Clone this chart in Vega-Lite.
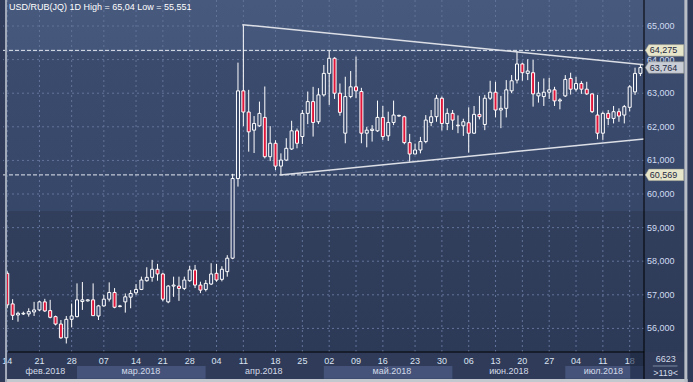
{
  "$schema": "https://vega.github.io/schema/vega-lite/v6.json",
  "width": 646,
  "height": 352,
  "autosize": {"type": "none"},
  "padding": {"left": 3, "top": 0, "right": 44, "bottom": 30},
  "background": "#2f3b58",
  "config": {
    "view": {"stroke": null},
    "text": {"font": "Liberation Sans"}
  },
  "datasets": {
    "candles": [
      {"k": -1, "o": 57.64, "h": 57.70, "l": 56.60, "c": 56.70},
      {"k": 0, "o": 56.73, "h": 56.87, "l": 56.25, "c": 56.39},
      {"k": 1, "o": 56.40, "h": 56.50, "l": 56.20, "c": 56.45},
      {"k": 2, "o": 56.43, "h": 56.50, "l": 56.40, "c": 56.45},
      {"k": 3, "o": 56.43, "h": 56.60, "l": 56.35, "c": 56.50},
      {"k": 4, "o": 56.49, "h": 56.79, "l": 56.37, "c": 56.55},
      {"k": 5, "o": 56.55, "h": 56.82, "l": 56.52, "c": 56.79},
      {"k": 6, "o": 56.79, "h": 56.88, "l": 56.49, "c": 56.52},
      {"k": 7, "o": 56.53, "h": 56.85, "l": 56.30, "c": 56.33},
      {"k": 8, "o": 56.35, "h": 56.38, "l": 56.09, "c": 56.13},
      {"k": 9, "o": 56.13, "h": 56.25, "l": 55.69, "c": 55.72},
      {"k": 10, "o": 55.72, "h": 56.37, "l": 55.551, "c": 56.27},
      {"k": 11, "o": 56.27, "h": 56.74, "l": 56.03, "c": 56.37},
      {"k": 12, "o": 56.35, "h": 57.34, "l": 56.33, "c": 56.85},
      {"k": 13, "o": 56.80, "h": 57.38, "l": 56.55, "c": 56.85},
      {"k": 14, "o": 56.82, "h": 56.87, "l": 56.80, "c": 56.85},
      {"k": 15, "o": 56.85, "h": 57.34, "l": 56.38, "c": 56.38},
      {"k": 16, "o": 56.37, "h": 56.70, "l": 56.25, "c": 56.67},
      {"k": 17, "o": 56.67, "h": 57.00, "l": 56.65, "c": 56.87},
      {"k": 18, "o": 56.87, "h": 57.37, "l": 56.80, "c": 57.07},
      {"k": 19, "o": 57.07, "h": 57.20, "l": 56.60, "c": 56.63},
      {"k": 20, "o": 56.65, "h": 56.70, "l": 56.63, "c": 56.67},
      {"k": 21, "o": 56.79, "h": 57.04, "l": 56.47, "c": 56.94},
      {"k": 22, "o": 56.93, "h": 57.14, "l": 56.60, "c": 57.04},
      {"k": 23, "o": 57.06, "h": 57.32, "l": 56.99, "c": 57.16},
      {"k": 24, "o": 57.16, "h": 57.54, "l": 57.14, "c": 57.44},
      {"k": 25, "o": 57.42, "h": 57.82, "l": 57.39, "c": 57.52},
      {"k": 26, "o": 57.52, "h": 58.04, "l": 57.39, "c": 57.76},
      {"k": 27, "o": 57.76, "h": 57.92, "l": 57.42, "c": 57.62},
      {"k": 28, "o": 57.62, "h": 57.66, "l": 56.81, "c": 56.87},
      {"k": 29, "o": 56.79, "h": 57.29, "l": 56.75, "c": 57.26},
      {"k": 30, "o": 57.26, "h": 57.54, "l": 56.94, "c": 57.29},
      {"k": 31, "o": 57.26, "h": 57.54, "l": 56.82, "c": 57.19},
      {"k": 32, "o": 57.19, "h": 57.54, "l": 57.14, "c": 57.44},
      {"k": 33, "o": 57.42, "h": 57.86, "l": 57.39, "c": 57.74},
      {"k": 34, "o": 57.74, "h": 57.89, "l": 57.20, "c": 57.29},
      {"k": 35, "o": 57.29, "h": 57.39, "l": 57.05, "c": 57.14},
      {"k": 36, "o": 57.16, "h": 57.44, "l": 57.10, "c": 57.34},
      {"k": 37, "o": 57.32, "h": 57.94, "l": 57.29, "c": 57.62},
      {"k": 38, "o": 57.64, "h": 57.92, "l": 57.39, "c": 57.44},
      {"k": 39, "o": 57.46, "h": 57.85, "l": 57.40, "c": 57.76},
      {"k": 40, "o": 57.69, "h": 58.18, "l": 57.54, "c": 58.09},
      {"k": 41, "o": 58.09, "h": 60.60, "l": 58.06, "c": 60.46},
      {"k": 42, "o": 60.46, "h": 63.91, "l": 60.22, "c": 63.07},
      {"k": 43, "o": 63.07, "h": 65.04, "l": 62.02, "c": 62.44},
      {"k": 44, "o": 62.44, "h": 63.10, "l": 61.26, "c": 61.85},
      {"k": 45, "o": 61.90, "h": 62.32, "l": 61.22, "c": 62.10},
      {"k": 46, "o": 62.03, "h": 62.75, "l": 62.00, "c": 62.40},
      {"k": 47, "o": 62.28, "h": 63.20, "l": 61.06, "c": 61.11},
      {"k": 48, "o": 61.11, "h": 62.02, "l": 60.98, "c": 61.51},
      {"k": 49, "o": 61.51, "h": 61.60, "l": 60.71, "c": 60.83},
      {"k": 50, "o": 60.83, "h": 61.21, "l": 60.569, "c": 61.01},
      {"k": 51, "o": 61.01, "h": 61.66, "l": 60.98, "c": 61.36},
      {"k": 52, "o": 61.34, "h": 62.18, "l": 61.31, "c": 61.88},
      {"k": 53, "o": 61.88, "h": 61.95, "l": 61.36, "c": 61.51},
      {"k": 54, "o": 61.71, "h": 62.50, "l": 61.49, "c": 62.40},
      {"k": 55, "o": 62.40, "h": 63.05, "l": 62.08, "c": 62.75},
      {"k": 56, "o": 62.75, "h": 63.19, "l": 61.71, "c": 62.13},
      {"k": 57, "o": 62.15, "h": 63.15, "l": 62.08, "c": 62.95},
      {"k": 58, "o": 62.95, "h": 63.84, "l": 62.90, "c": 63.59},
      {"k": 59, "o": 63.59, "h": 64.275, "l": 62.65, "c": 64.04},
      {"k": 60, "o": 64.04, "h": 64.07, "l": 62.83, "c": 63.00},
      {"k": 61, "o": 63.00, "h": 63.29, "l": 62.33, "c": 62.43},
      {"k": 62, "o": 61.81, "h": 63.49, "l": 61.51, "c": 62.90},
      {"k": 63, "o": 62.90, "h": 63.66, "l": 62.85, "c": 63.19},
      {"k": 64, "o": 63.19, "h": 64.09, "l": 62.85, "c": 63.07},
      {"k": 65, "o": 63.05, "h": 63.16, "l": 61.51, "c": 61.81},
      {"k": 66, "o": 61.81, "h": 62.00, "l": 61.39, "c": 61.90},
      {"k": 67, "o": 61.89, "h": 62.05, "l": 61.56, "c": 61.93},
      {"k": 68, "o": 61.88, "h": 62.78, "l": 61.85, "c": 62.28},
      {"k": 69, "o": 62.28, "h": 62.62, "l": 61.61, "c": 61.71},
      {"k": 70, "o": 61.73, "h": 62.45, "l": 61.58, "c": 62.13},
      {"k": 71, "o": 62.13, "h": 62.78, "l": 62.05, "c": 62.35},
      {"k": 72, "o": 62.32, "h": 62.36, "l": 62.30, "c": 62.34},
      {"k": 73, "o": 62.30, "h": 62.33, "l": 61.48, "c": 61.53},
      {"k": 74, "o": 61.53, "h": 61.79, "l": 60.96, "c": 61.19},
      {"k": 75, "o": 61.19, "h": 61.50, "l": 61.19, "c": 61.31},
      {"k": 76, "o": 61.31, "h": 61.70, "l": 61.21, "c": 61.56},
      {"k": 77, "o": 61.56, "h": 62.35, "l": 61.51, "c": 62.20},
      {"k": 78, "o": 62.13, "h": 62.50, "l": 62.02, "c": 62.30},
      {"k": 79, "o": 62.30, "h": 62.95, "l": 62.15, "c": 62.85},
      {"k": 80, "o": 62.85, "h": 62.90, "l": 61.89, "c": 62.10},
      {"k": 81, "o": 62.10, "h": 62.55, "l": 61.90, "c": 62.40},
      {"k": 82, "o": 62.40, "h": 62.50, "l": 61.91, "c": 62.20},
      {"k": 83, "o": 62.03, "h": 62.34, "l": 61.81, "c": 62.05},
      {"k": 84, "o": 62.03, "h": 62.24, "l": 61.73, "c": 62.15},
      {"k": 85, "o": 62.12, "h": 62.58, "l": 61.23, "c": 61.81},
      {"k": 86, "o": 61.81, "h": 62.62, "l": 61.79, "c": 62.37},
      {"k": 87, "o": 62.37, "h": 62.92, "l": 62.22, "c": 62.30},
      {"k": 88, "o": 62.07, "h": 62.95, "l": 61.90, "c": 62.85},
      {"k": 89, "o": 62.85, "h": 63.37, "l": 62.80, "c": 63.03},
      {"k": 90, "o": 63.03, "h": 63.34, "l": 62.28, "c": 62.50},
      {"k": 91, "o": 62.50, "h": 62.92, "l": 61.96, "c": 62.55},
      {"k": 92, "o": 62.55, "h": 63.39, "l": 62.28, "c": 63.10},
      {"k": 93, "o": 63.07, "h": 63.54, "l": 63.00, "c": 63.37},
      {"k": 94, "o": 63.39, "h": 64.25, "l": 63.29, "c": 63.87},
      {"k": 95, "o": 63.87, "h": 63.91, "l": 63.37, "c": 63.61},
      {"k": 96, "o": 63.59, "h": 64.01, "l": 63.39, "c": 63.66},
      {"k": 97, "o": 63.61, "h": 63.99, "l": 62.60, "c": 62.98},
      {"k": 98, "o": 62.92, "h": 63.34, "l": 62.72, "c": 63.00},
      {"k": 99, "o": 62.90, "h": 63.44, "l": 62.62, "c": 63.03},
      {"k": 100, "o": 63.03, "h": 63.46, "l": 62.83, "c": 63.10},
      {"k": 101, "o": 63.10, "h": 63.19, "l": 62.62, "c": 62.77},
      {"k": 102, "o": 62.77, "h": 62.85, "l": 62.52, "c": 62.80},
      {"k": 103, "o": 62.92, "h": 63.54, "l": 62.89, "c": 63.41},
      {"k": 104, "o": 63.44, "h": 63.61, "l": 62.96, "c": 63.12},
      {"k": 105, "o": 63.12, "h": 63.49, "l": 63.05, "c": 63.29},
      {"k": 106, "o": 63.29, "h": 63.36, "l": 62.98, "c": 63.12},
      {"k": 107, "o": 63.12, "h": 63.34, "l": 62.95, "c": 62.98},
      {"k": 108, "o": 62.98, "h": 62.99, "l": 62.41, "c": 62.45},
      {"k": 109, "o": 62.35, "h": 62.95, "l": 61.63, "c": 61.81},
      {"k": 110, "o": 61.81, "h": 62.45, "l": 61.61, "c": 62.40},
      {"k": 111, "o": 62.40, "h": 62.50, "l": 62.05, "c": 62.25},
      {"k": 112, "o": 62.25, "h": 62.62, "l": 62.10, "c": 62.45},
      {"k": 113, "o": 62.45, "h": 62.55, "l": 62.15, "c": 62.32},
      {"k": 114, "o": 62.35, "h": 62.65, "l": 62.10, "c": 62.60},
      {"k": 115, "o": 62.58, "h": 63.24, "l": 62.46, "c": 63.19},
      {"k": 116, "o": 63.04, "h": 63.76, "l": 62.95, "c": 63.59},
      {"k": 117, "o": 63.59, "h": 63.86, "l": 63.51, "c": 63.764}
    ],
    "days": [
      {"k": -1, "d": "14"}, {"k": 5, "d": "21"}, {"k": 11, "d": "28"}, {"k": 17, "d": "07"},
      {"k": 23, "d": "14"}, {"k": 28, "d": "21"}, {"k": 33, "d": "28"}, {"k": 38, "d": "04"},
      {"k": 43, "d": "11"}, {"k": 49, "d": "18"}, {"k": 54, "d": "25"}, {"k": 59, "d": "02"},
      {"k": 64, "d": "09"}, {"k": 69, "d": "16"}, {"k": 75, "d": "23"}, {"k": 80, "d": "30"},
      {"k": 85, "d": "06"}, {"k": 90, "d": "13"}, {"k": 95, "d": "20"}, {"k": 100, "d": "27"},
      {"k": 105, "d": "04"}, {"k": 110, "d": "11"}, {"k": 115, "d": "18"}
    ],
    "prices": [
      {"p": 56, "t": "56,000"}, {"p": 57, "t": "57,000"}, {"p": 58, "t": "58,000"},
      {"p": 59, "t": "59,000"}, {"p": 60, "t": "60,000"}, {"p": 61, "t": "61,000"},
      {"p": 62, "t": "62,000"}, {"p": 63, "t": "63,000"}, {"p": 64, "t": "64,000"},
      {"p": 65, "t": "65,000"}
    ],
    "trend": [
      {"line": "upper", "k": 42.81, "p": 65.04},
      {"line": "upper", "k": 117.67, "p": 63.85},
      {"line": "lower", "k": 49.85, "p": 60.569},
      {"line": "lower", "k": 117.67, "p": 61.64}
    ],
    "levels": [
      {"level": 64.275, "label": "64,275", "kind": "extreme"},
      {"level": 63.764, "label": "63,764", "kind": "last"},
      {"level": 60.569, "label": "60,569", "kind": "extreme"}
    ],
    "months": [
      {"month": "фев.2018", "k0": -1.42, "k1": 12, "km": 6.1, "shade": 0},
      {"month": "мар.2018", "k0": 12, "k1": 36, "km": 23.9, "shade": 1},
      {"month": "апр.2018", "k0": 36, "k1": 58, "km": 46.8, "shade": 0},
      {"month": "май.2018", "k0": 58, "k1": 82, "km": 70.7, "shade": 1},
      {"month": "июн.2018", "k0": 82, "k1": 103, "km": 92.5, "shade": 0},
      {"month": "июл.2018", "k0": 103, "k1": 117.67, "km": 110.1, "shade": 1}
    ]
  },
  "layer": [
    {
      "data": {"values": [{}]},
      "mark": {"type": "rect", "clip": false,
        "fill": {"gradient": "linear", "x1": 0, "y1": 0, "x2": 0, "y2": 1,
          "stops": [
            {"offset": 0, "color": "#47597c"},
            {"offset": 0.147, "color": "#44567a"},
            {"offset": 0.149, "color": "#3b4b6d"},
            {"offset": 0.598, "color": "#37476a"},
            {"offset": 0.6, "color": "#313f5d"},
            {"offset": 1, "color": "#2d3a57"}
          ]}},
      "encoding": {
        "x": {"datum": -1.42, "type": "quantitative",
          "scale": {"domain": [-0.862, 117.67], "nice": false, "zero": false}, "axis": null},
        "x2": {"datum": 125.8},
        "y": {"datum": 65.774, "type": "quantitative",
          "scale": {"domain": [55.298, 65.774], "nice": false, "zero": false}, "axis": null},
        "y2": {"datum": 55.298}
      }
    },
    {
      "data": {"name": "days"},
      "mark": {"type": "rule", "color": "#62739a", "strokeWidth": 1, "strokeDash": [2, 3], "clip": true},
      "encoding": {
        "x": {"field": "k", "type": "quantitative", "axis": null}
      }
    },
    {
      "data": {"name": "prices"},
      "mark": {"type": "rule", "color": "#62739a", "strokeWidth": 1, "strokeDash": [2, 3], "clip": true},
      "encoding": {
        "y": {"field": "p", "type": "quantitative", "axis": null}
      }
    },
    {
      "data": {"name": "levels"},
      "transform": [{"filter": "datum.kind == 'extreme'"}],
      "mark": {"type": "rule", "color": "#e4e8f0", "strokeWidth": 1, "strokeDash": [4, 2]},
      "encoding": {
        "y": {"field": "level", "type": "quantitative", "axis": null}
      }
    },
    {
      "data": {"name": "candles"},
      "mark": {"type": "rule", "color": "#ffffff", "strokeWidth": 1, "clip": true},
      "encoding": {
        "x": {"field": "k", "type": "quantitative", "axis": null},
        "y": {"field": "l", "type": "quantitative", "axis": null},
        "y2": {"field": "h"}
      }
    },
    {
      "data": {"name": "candles"},
      "mark": {"type": "bar", "size": 3, "stroke": "#ffffff", "strokeWidth": 1, "clip": true},
      "encoding": {
        "x": {"field": "k", "type": "quantitative", "axis": null},
        "y": {"field": "o", "type": "quantitative", "axis": null},
        "y2": {"field": "c"},
        "fill": {
          "condition": {"test": "datum.c < datum.o", "value": "#e0153a"},
          "field": "o", "type": "quantitative",
          "scale": {"type": "threshold", "domain": [59.49, 64.23], "range": ["#33426a", "#39496c", "#43557a"]},
          "legend": null
        }
      }
    },
    {
      "data": {"name": "trend"},
      "mark": {"type": "line", "color": "#dcdfe6", "strokeWidth": 1.5, "clip": true},
      "encoding": {
        "x": {"field": "k", "type": "quantitative", "axis": null},
        "y": {"field": "p", "type": "quantitative", "axis": null},
        "detail": {"field": "line"}
      }
    },
    {
      "data": {"name": "prices"},
      "mark": {"type": "text", "align": "left", "baseline": "middle", "fontSize": 9, "color": "#d0dcf2", "clip": false},
      "encoding": {
        "x": {"datum": 118.22, "type": "quantitative", "axis": null},
        "y": {"field": "p", "type": "quantitative", "axis": null},
        "text": {"field": "t"}
      }
    },
    {
      "data": {"name": "days"},
      "mark": {"type": "text", "align": "center", "baseline": "middle", "fontSize": 9, "color": "#dbe3f2", "clip": false},
      "encoding": {
        "x": {"field": "k", "type": "quantitative", "axis": null},
        "y": {"datum": 55.039, "type": "quantitative", "axis": null},
        "text": {"field": "d"}
      }
    },
    {
      "data": {"values": [{}]},
      "mark": {"type": "rule", "clip": false, "color": "#000000", "strokeWidth": 1},
      "encoding": {
        "x": {"datum": -0.862, "type": "quantitative", "axis": null},
        "x2": {"datum": 117.67},
        "y": {"datum": 55.298, "type": "quantitative", "axis": null}
      }
    },
    {
      "data": {"name": "months"},
      "mark": {"type": "rect", "clip": false},
      "encoding": {
        "x": {"field": "k0", "type": "quantitative", "axis": null},
        "x2": {"field": "k1"},
        "y": {"datum": 54.881, "type": "quantitative", "axis": null},
        "y2": {"datum": 54.503},
        "fill": {
          "condition": {"test": "datum.shade == 1", "value": "#45537a"},
          "value": "#2f3b58"
        }
      }
    },
    {
      "data": {"name": "months"},
      "mark": {"type": "text", "align": "center", "baseline": "middle", "fontSize": 9, "color": "#d3dae8", "clip": false},
      "encoding": {
        "x": {"field": "km", "type": "quantitative", "axis": null},
        "y": {"datum": 54.723, "type": "quantitative", "axis": null},
        "text": {"field": "month"}
      }
    },
    {
      "data": {"values": [{}]},
      "mark": {"type": "rect", "clip": false, "fill": "#1d2740", "opacity": 0.6},
      "encoding": {
        "x": {"datum": 115.1, "type": "quantitative", "axis": null},
        "x2": {"datum": 117.67},
        "y": {"datum": 55.268, "type": "quantitative", "axis": null},
        "y2": {"datum": 54.503}
      }
    },
    {
      "data": {"values": [{}]},
      "mark": {"type": "rule", "clip": false, "color": "#000000", "strokeWidth": 1},
      "encoding": {
        "x": {"datum": 117.67, "type": "quantitative", "axis": null},
        "y": {"datum": 65.8, "type": "quantitative", "axis": null},
        "y2": {"datum": 54.47}
      }
    },
    {
      "data": {"name": "levels"},
      "mark": {"type": "point", "filled": true, "clip": false, "size": 1482, "opacity": 1,
        "shape": "M -1 0 L -0.82 -0.3 L 1 -0.3 L 1 0.3 L -0.82 0.3 Z",
        "stroke": "#8a8c80", "strokeWidth": 0.5},
      "encoding": {
        "x": {"datum": 121.5, "type": "quantitative", "axis": null},
        "y": {"field": "level", "type": "quantitative", "axis": null},
        "fill": {
          "condition": {"test": "datum.kind == 'last'", "value": "#c9cdd6"},
          "value": "#e7e5ca"
        }
      }
    },
    {
      "data": {"name": "levels"},
      "mark": {"type": "text", "align": "left", "baseline": "middle", "fontSize": 9, "color": "#1d2940", "clip": false},
      "encoding": {
        "x": {"datum": 118.75, "type": "quantitative", "axis": null},
        "y": {"field": "level", "type": "quantitative", "axis": null},
        "text": {"field": "label"}
      }
    },
    {
      "data": {"values": [{}]},
      "mark": {"type": "rule", "clip": false, "color": "#7d8aa3", "strokeWidth": 1},
      "encoding": {
        "x": {"datum": 119.32, "type": "quantitative", "axis": null},
        "x2": {"datum": 123.91},
        "y": {"datum": 54.881, "type": "quantitative", "axis": null}
      }
    },
    {
      "data": {"values": [{"t": "6623", "p": 55.075}, {"t": ">119<", "p": 54.673}]},
      "mark": {"type": "text", "align": "center", "baseline": "middle", "fontSize": 9, "color": "#d3dae8", "clip": false},
      "encoding": {
        "x": {"datum": 121.71, "type": "quantitative", "axis": null},
        "y": {"field": "p", "type": "quantitative", "axis": null},
        "text": {"field": "t"}
      }
    },
    {
      "data": {"values": [{}]},
      "mark": {"type": "text", "align": "left", "baseline": "middle", "fontSize": 9, "color": "#ffffff", "clip": false,
        "text": "USD/RUB(JQ) 1D High = 65,04 Low = 55,551"},
      "encoding": {
        "x": {"datum": -0.68, "type": "quantitative", "axis": null},
        "y": {"datum": 65.551, "type": "quantitative", "axis": null}
      }
    },
    {
      "data": {"values": [{}]},
      "mark": {"type": "rule", "clip": false, "color": "#c3c7ce", "strokeWidth": 3},
      "encoding": {
        "x": {"datum": -1.42, "type": "quantitative", "axis": null},
        "x2": {"datum": 125.8},
        "y": {"datum": 54.449, "type": "quantitative", "axis": null}
      }
    },
    {
      "data": {"values": [{}]},
      "mark": {"type": "rule", "clip": false, "color": "#a3abba", "strokeWidth": 2},
      "encoding": {
        "x": {"datum": -1.229, "type": "quantitative", "axis": null},
        "y": {"datum": 65.8, "type": "quantitative", "axis": null},
        "y2": {"datum": 54.4}
      }
    },
    {
      "data": {"values": [{}]},
      "mark": {"type": "rule", "clip": false, "color": "#b9bdc5", "strokeWidth": 3},
      "encoding": {
        "x": {"datum": 125.47, "type": "quantitative", "axis": null},
        "y": {"datum": 65.8, "type": "quantitative", "axis": null},
        "y2": {"datum": 54.4}
      }
    }
  ]
}
